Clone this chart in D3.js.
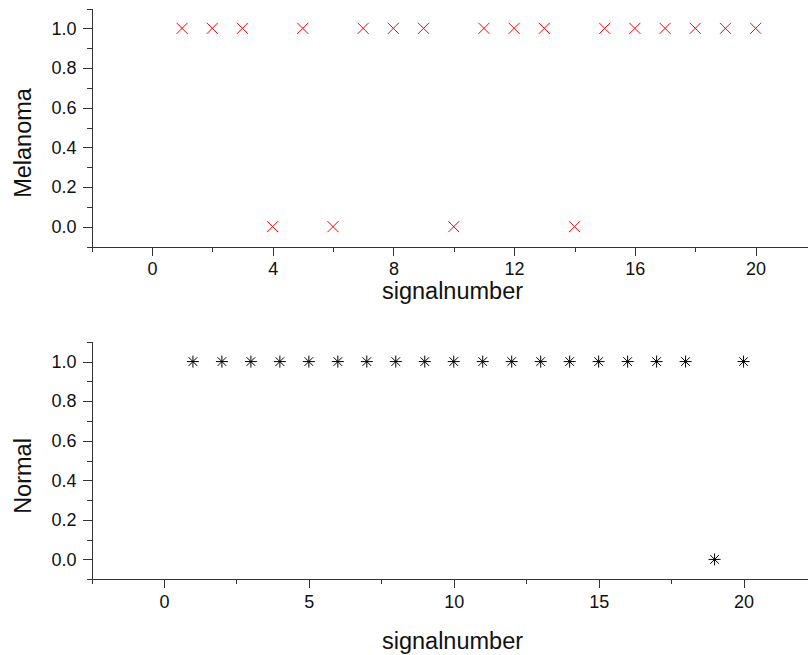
<!DOCTYPE html>
<html>
<head>
  <meta charset="utf-8">
  <title>Melanoma / Normal</title>
  <script src="https://d3js.org/d3.v7.min.js"></script>
  <style>
    body {
      margin: 0;
      background: #ffffff;
      font-family: "Liberation Sans", Arial, sans-serif;
    }
    .axis path, .axis line {
      stroke: #333;
      shape-rendering: crispEdges;
    }
    .axis text {
      font-size: 18px;
      fill: #111;
      font-family: "Liberation Sans", Arial, sans-serif;
    }
    .title {
      font-size: 23.5px;
      fill: #111;
    }
  </style>
</head>
<body>
  <div id="chart"></div>
  <script>
    // data
    const signalNumbers = [1, 2, 3, 4, 5, 6, 7, 8, 9, 10, 11, 12, 13, 14, 15, 16, 17, 18, 19, 20];
    const melanomaValues = [1, 1, 1, 0, 1, 0, 1, 1, 1, 0, 1, 1, 1, 0, 1, 1, 1, 1, 1, 1];
    const normalValues = [1, 1, 1, 1, 1, 1, 1, 1, 1, 1, 1, 1, 1, 1, 1, 1, 1, 1, 0, 1];

    const melanomaXTicks = [0, 4, 8, 12, 16, 20];
    const melanomaXMinor = [-2, 2, 6, 10, 14, 18, 22];
    const normalXTicks = [0, 5, 10, 15, 20];
    const normalXMinor = [-2.5, 2.5, 7.5, 12.5, 17.5, 22.5];
    const yTicks = [0, 0.2, 0.4, 0.6, 0.8, 1.0];
    const yMinor = [-0.1, 0.1, 0.3, 0.5, 0.7, 0.9, 1.1];

    const width = 808, height = 655;
    const svg = d3.select('#chart').append('svg')
      .attr('width', width)
      .attr('height', height);

    const panels = [
      {
        name: 'Melanoma', values: melanomaValues, xDomain: [-2, 22],
        xTicks: melanomaXTicks, xMinor: melanomaXMinor,
        top: 8.5, bottom: 246.5, titleY: 143, xTitleY: 299,
        marker: 'cross', color: '#ff0000'
      },
      {
        name: 'Normal', values: normalValues, xDomain: [-2.5, 22.5],
        xTicks: normalXTicks, xMinor: normalXMinor,
        top: 341.8, bottom: 579.2, titleY: 476, xTitleY: 649,
        marker: 'star', color: '#000000'
      }
    ];

    const left = 91.5, right = 816;

    function markerPath(type, s) {
      if (type === 'cross') {
        return `M${-s},${-s}L${s},${s}M${-s},${s}L${s},${-s}`;
      }
      const d = s * 0.72;
      return `M0,${-s}L0,${s}M${-s},0L${s},0M${-d},${-d}L${d},${d}M${-d},${d}L${d},${-d}`;
    }

    panels.forEach(p => {
      const x = d3.scaleLinear().domain(p.xDomain).range([left, right]);
      const y = d3.scaleLinear().domain([-0.1, 1.1]).range([p.bottom, p.top]);

      // x axis, major and minor
      svg.append('g')
        .attr('class', 'axis')
        .attr('transform', `translate(0,${p.bottom})`)
        .call(d3.axisBottom(x).tickValues(p.xMinor).tickSize(5).tickSizeOuter(0).tickFormat(''));
      svg.append('g')
        .attr('class', 'axis')
        .attr('transform', `translate(0,${p.bottom})`)
        .call(d3.axisBottom(x).tickValues(p.xTicks).tickSize(9).tickSizeOuter(0).tickPadding(7).tickFormat(d3.format('d')))
        .call(g => g.select('.domain').remove());

      // y axis, major and minor
      svg.append('g')
        .attr('class', 'axis')
        .attr('transform', `translate(${left},0)`)
        .call(d3.axisLeft(y).tickValues(yMinor).tickSize(5).tickSizeOuter(0).tickFormat(''));
      svg.append('g')
        .attr('class', 'axis')
        .attr('transform', `translate(${left},0)`)
        .call(d3.axisLeft(y).tickValues(yTicks).tickSize(9).tickSizeOuter(0).tickPadding(6).tickFormat(d3.format('.1f')))
        .call(g => g.select('.domain').remove());

      // titles
      svg.append('text')
        .attr('class', 'title')
        .attr('text-anchor', 'middle')
        .attr('transform', `translate(31,${p.titleY}) rotate(-90)`)
        .text(p.name);
      svg.append('text')
        .attr('class', 'title')
        .attr('text-anchor', 'middle')
        .attr('x', 452.5)
        .attr('y', p.xTitleY)
        .text('signalnumber');

      // markers
      svg.append('g')
        .selectAll('path')
        .data(signalNumbers.map((n, i) => ({ n: n, v: p.values[i] })))
        .join('path')
        .attr('transform', d => `translate(${x(d.n)},${y(d.v)})`)
        .attr('d', markerPath(p.marker, p.marker === 'cross' ? 5.5 : 6))
        .attr('fill', 'none')
        .attr('stroke', p.color)
        .attr('stroke-width', 1);
    });
  </script>
</body>
</html>
